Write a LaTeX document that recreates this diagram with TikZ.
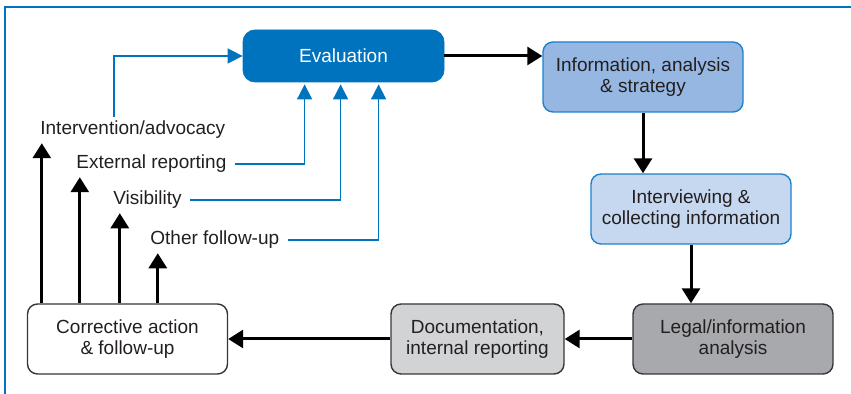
\documentclass[tikz,border=0pt]{standalone}
\usepackage{fontspec}
\setmainfont{Liberation Sans}
\usetikzlibrary{arrows.meta,positioning}
\definecolor{evalblue}{HTML}{0073BE}
\definecolor{midblue}{HTML}{95B7E1}
\definecolor{paleblue}{HTML}{C6D8F0}
\definecolor{edgeblue}{HTML}{1F80CC}
\definecolor{darkgrey}{HTML}{A7A9AC}
\definecolor{lightgrey}{HTML}{D1D3D4}
\definecolor{inkgrey}{HTML}{231F20}
\tikzstyle{db} = [rectangle,
                      rounded corners=6pt,
                      text=white,
                      align=center,
                      minimum width=100.5pt,
                      minimum height=26pt,
                      draw=evalblue,
                      fill=evalblue]
\tikzstyle{bb} = [rectangle,
                      line width=0.7pt,
                      rounded corners=5pt,
                      text=inkgrey,
                      align=center,
                      inner sep=1pt,
                      minimum width=100pt,
                      minimum height=35pt,
                      draw=edgeblue]
\tikzstyle{gb} = [rectangle,
                      line width=0.7pt,
                      rounded corners=5pt,
                      text=inkgrey,
                      align=center,
                      inner sep=1pt,
                      minimum width=100pt,
                      minimum height=35pt,
                      draw=inkgrey!90]
\tikzstyle{lbl} = [anchor=west,
                      text=inkgrey,
                      inner xsep=4pt,
                      inner ysep=2pt]
\tikzstyle{ba} = [line width=1.5pt,
                      -{Triangle[length=7.5pt,width=9pt]}]
\tikzstyle{bl} = [line width=0.8pt,
                      draw=evalblue,
                      -{Triangle[length=7.5pt,width=7.5pt]}]

\begin{document}
\begin{tikzpicture}[x=0.5pt,y=-0.5pt,
     every node/.style={font=\fontsize{9.5}{10.9}\selectfont}
     ]
     \useasboundingbox (0,0) rectangle (851,394);
     \draw[evalblue, line width=1pt] (5,410) |- (870,7);
     % main chain
     \node [db] (eval) at (343.5,56) {Evaluation};
     \node [bb, fill=midblue] (info) at (643,77) {Information, analysis\\ \& strategy};
     \node [bb, fill=paleblue] (interview) at (691,209) {Interviewing \&\\ collecting information};
     \node [gb, fill=darkgrey] (legal) at (733,339) {Legal/information\\ analysis};
     \node [gb, fill=lightgrey, minimum width=86.5pt] (doc) at (477.5,339) {Documentation,\\ internal reporting};
     \node [gb, fill=white] (corrective) at (127.5,339) {Corrective action\\ \& follow-up};
     % follow-up labels
     \node [lbl] (interv) at (32,130) {Intervention/advocacy};
     \node [lbl] (extrep) at (68,164) {External reporting};
     \node [lbl] (visib) at (105,200) {Visibility};
     \node [lbl] (other) at (142,240) {Other follow-up};

     \draw [ba] (eval.east) -- (eval.east -| info.west);
     \draw [ba] (info) -- (interview.north -| info);
     \draw [ba] (interview) -- (legal.north -| interview);
     \draw [ba] (legal) -- (doc);
     \draw [ba] (doc) -- (corrective);

     \draw [ba] ([xshift=7.5pt]corrective.north west) -- ([xshift=7.5pt]corrective.north west |- interv.south);
     \draw [ba] ([xshift=26.5pt]corrective.north west) -- ([xshift=26.5pt]corrective.north west |- extrep.south);
     \draw [ba] ([xshift=46.5pt]corrective.north west) -- ([xshift=46.5pt]corrective.north west |- visib.south);
     \draw [ba] ([xshift=65.5pt]corrective.north west) -- ([xshift=65.5pt]corrective.north west |- other.south);

     \draw [bl] ([xshift=41pt]interv.north west) |- (eval.west);
     \draw [bl] (extrep.east) -| ([xshift=31pt,yshift=-1pt]eval.south west);
     \draw [bl] (visib.east) -| ([xshift=49pt,yshift=-1pt]eval.south west);
     \draw [bl] (other.east) -| ([xshift=68pt,yshift=-1pt]eval.south west);
\end{tikzpicture}
\end{document}
